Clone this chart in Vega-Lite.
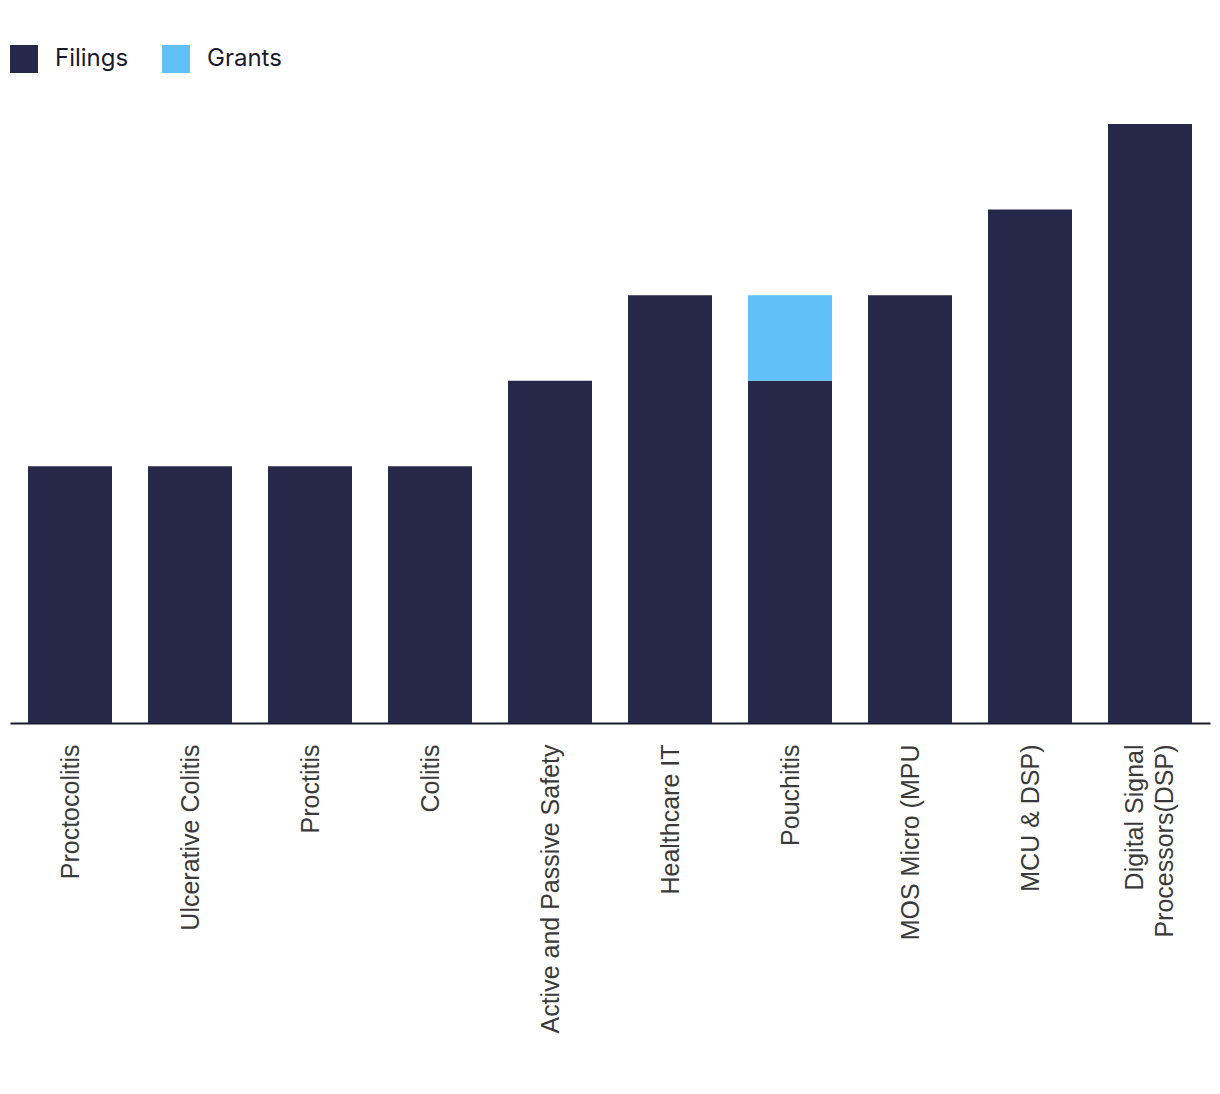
{
  "$schema": "https://vega.github.io/schema/vega-lite/v6.json",
  "autosize": {"type": "none"},
  "padding": {"left": 10, "top": 124, "right": 10, "bottom": 371},
  "width": 1200,
  "height": 599,
  "background": "#ffffff",
  "config": {"view": {"stroke": null}},
  "data": {
    "values": [
      {"category": "Proctocolitis", "type": "Filings", "count": 3},
      {"category": "Ulcerative Colitis", "type": "Filings", "count": 3},
      {"category": "Proctitis", "type": "Filings", "count": 3},
      {"category": "Colitis", "type": "Filings", "count": 3},
      {"category": "Active and Passive Safety", "type": "Filings", "count": 4},
      {"category": "Healthcare IT", "type": "Filings", "count": 5},
      {"category": "Pouchitis", "type": "Filings", "count": 4},
      {"category": "Pouchitis", "type": "Grants", "count": 1},
      {"category": "MOS Micro (MPU", "type": "Filings", "count": 5},
      {"category": "MCU & DSP)", "type": "Filings", "count": 6},
      {"category": "Digital Signal Processors(DSP)", "type": "Filings", "count": 7}
    ]
  },
  "mark": {"type": "bar"},
  "encoding": {
    "x": {
      "field": "category",
      "type": "nominal",
      "sort": null,
      "scale": {"paddingInner": 0.3, "paddingOuter": 0.15},
      "axis": {
        "title": null,
        "labelAngle": -90,
        "labelFont": "Liberation Sans",
        "labelFontSize": 25,
        "labelColor": "#3a3a3a",
        "labelPadding": 21,
        "labelLimit": 400,
        "ticks": false,
        "domainColor": "#1a1a2e",
        "domainWidth": 2,
        "labelExpr": "datum.value == 'Digital Signal Processors(DSP)' ? ['Digital Signal', 'Processors(DSP)'] : datum.value",
        "labelLineHeight": 30,
        "labelOffset": {"condition": {"test": "datum.value == 'Digital Signal Processors(DSP)'", "value": -15}, "value": 1}
      }
    },
    "y": {
      "field": "count",
      "type": "quantitative",
      "stack": "zero",
      "scale": {"domain": [0, 7], "nice": false},
      "axis": null
    },
    "color": {
      "field": "type",
      "type": "nominal",
      "scale": {"domain": ["Filings", "Grants"], "range": ["#27274a", "#62c0f8"]},
      "legend": {
        "title": null,
        "orient": "none",
        "legendX": 0,
        "legendY": -79,
        "direction": "horizontal",
        "symbolType": "square",
        "symbolSize": 784,
        "symbolStrokeWidth": 0,
        "symbolOpacity": 1,
        "labelFont": "Inter",
        "labelFontSize": 24,
        "labelColor": "#1a1a2e",
        "labelOffset": 17,
        "columnPadding": 33
      }
    },
    "order": {"field": "type", "type": "nominal", "sort": "ascending"}
  }
}
